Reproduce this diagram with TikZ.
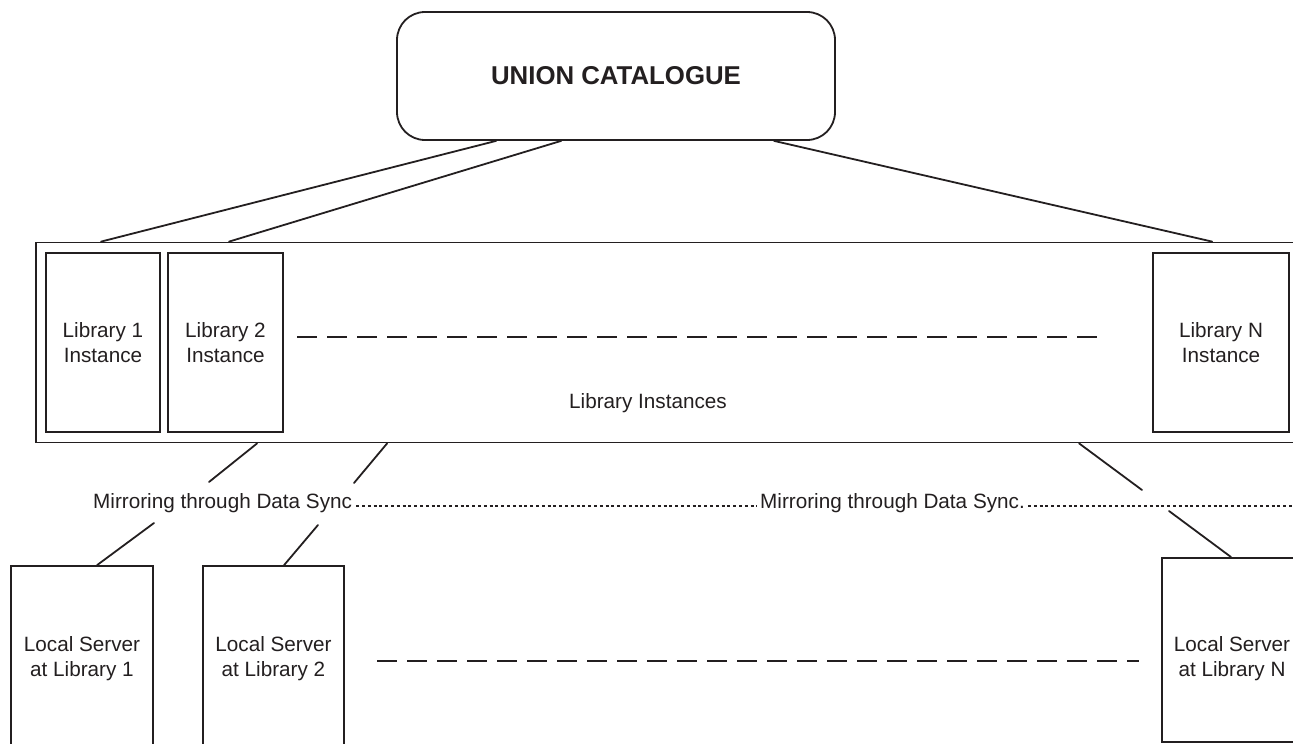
\documentclass[tikz,border=0pt]{standalone}
\usepackage{fontspec}
\setmainfont{Liberation Sans}
\definecolor{inkc}{RGB}{35,31,32}
\newcommand\txtfont{\fontsize{20.7}{25}\selectfont}
\newcommand\titlefont{\fontsize{25.8}{30}\selectfont\bfseries}
\begin{document}
\begin{tikzpicture}[x=1pt,y=-1pt,
  ink/.style={draw=inkc, line width=1.8pt},
  box/.style={ink, rectangle, inner sep=0pt, align=center, font=\txtfont, text=inkc},
  plain/.style={inner sep=0pt, font=\txtfont, text=inkc},
  link/.style={ink, line cap=round},
  gapline/.style={draw=inkc, line width=2.6pt, dash pattern=on 20pt off 10pt},
  dotline/.style={draw=inkc, line width=2.8pt, dash pattern=on 2.9pt off 2.9pt}]
\useasboundingbox (0,0) rectangle (1293,744);
\clip (0,0) rectangle (1293,744);

% central catalogue
\node[box, rounded corners=28pt, minimum width=438pt, minimum height=128pt,
      font=\titlefont] (uc) at (616,76) {UNION CATALOGUE};

% hosted library instances
\node[box, minimum width=1264pt, minimum height=200pt] (outer) at (668,342.5) {};
\node[box, minimum width=114pt, minimum height=179pt] (lib1) at (103,342.5) {Library 1\\Instance};
\node[box, minimum width=115pt, minimum height=179pt] (lib2) at (225.5,342.5) {Library 2\\Instance};
\node[box, minimum width=136pt, minimum height=179pt] (libN) at (1221,342.5) {Library N\\Instance};
\node[plain, anchor=base] (instlabel) at (648,408) {Library Instances};

% local servers
\node[box, minimum width=142pt, minimum height=186pt] (srv1) at (82,659) {Local Server\\at Library 1};
\node[box, minimum width=141pt, minimum height=186pt] (srv2) at (273.5,659) {Local Server\\at Library 2};
\node[box, minimum width=140pt, minimum height=184pt] (srvN) at (1232,650) {};
\node[plain, align=center] (srvNlabel) at (1232,659) {Local Server\\at Library N};

% mirroring labels
\node[plain, anchor=base west] (mir1) at (93,508) {Mirroring through Data Sync};
\node[plain, anchor=base west] (mir2) at (760,508) {Mirroring through Data Sync.};

% free ends of the mirroring links
\coordinate (m1a) at (209,482);
\coordinate (m2a) at (354,483);
\coordinate (m3a) at (1142,490);
\coordinate (m1b) at (154,523);
\coordinate (m2b) at (318,525);
\coordinate (m3b) at (1169,511);
\coordinate (dotend) at (1300,506);
\coordinate (dashAa) at (297,337);
\coordinate (dashAb) at (1098,337);
\coordinate (dashBa) at (377,661);
\coordinate (dashBb) at (1139,661);

% catalogue to instances
\draw[link] ([xshift=100pt]uc.south west) -- ([xshift=66pt]outer.north west);
\draw[link] ([xshift=165pt]uc.south west) -- ([xshift=194pt]outer.north west);
\draw[link] ([xshift=378pt]uc.south west) -- ([xshift=1177pt]outer.north west);

% instances to mirroring
\draw[link] ([xshift=222pt]outer.south west) -- (m1a);
\draw[link] ([xshift=352pt]outer.south west) -- (m2a);
\draw[link] ([xshift=1044pt]outer.south west) -- (m3a);

% mirroring to local servers
\draw[link] (m1b) -- ([xshift=87pt]srv1.north west);
\draw[link] (m2b) -- ([xshift=82pt]srv2.north west);
\draw[link] (m3b) -- ([xshift=70pt]srvN.north west);

% dotted mirroring line
\draw[dotline] ([xshift=4pt,yshift=2pt]mir1.base east) -- ([xshift=-3pt,yshift=2pt]mir2.base west);
\draw[dotline] ([xshift=3pt,yshift=2pt]mir2.base east) -- (dotend);

% ellipsis dashes
\draw[gapline] (dashAa) -- (dashAb);
\draw[gapline] (dashBa) -- (dashBb);
\end{tikzpicture}
\end{document}
